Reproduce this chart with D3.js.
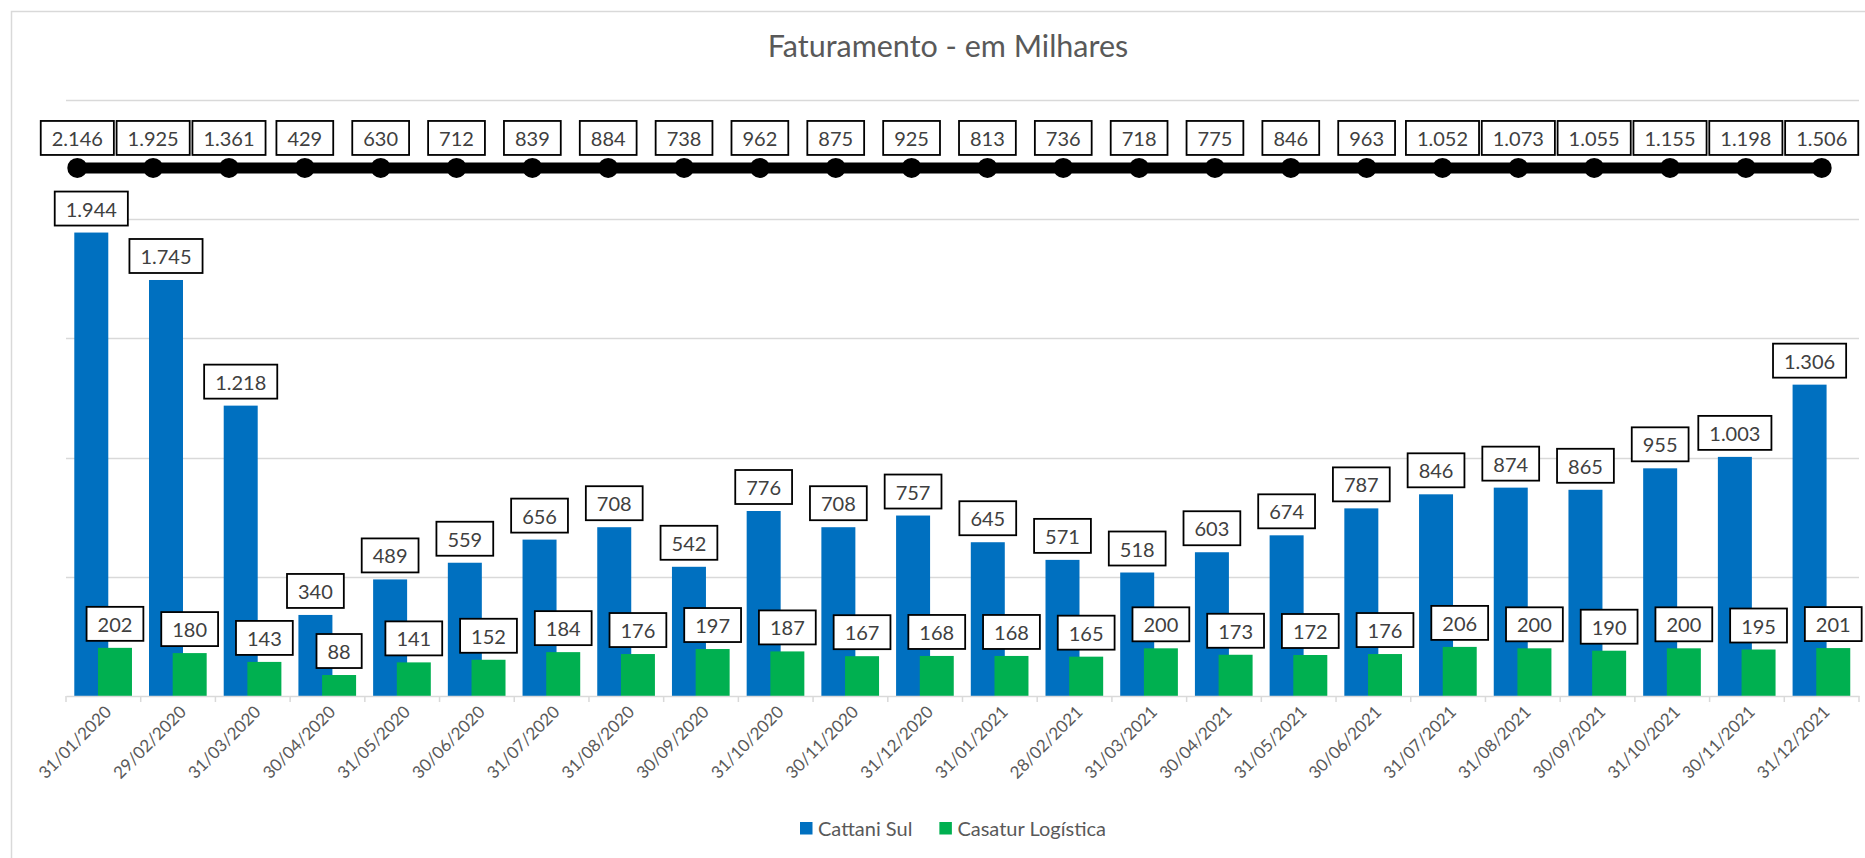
<!DOCTYPE html>
<html>
<head>
<meta charset="utf-8">
<script src="https://cdn.jsdelivr.net/npm/d3@7"></script>
<style>
  html, body { margin: 0; padding: 0; background: #fff; overflow: hidden; }
  text { font-family: Lato, "Open Sans", sans-serif; }
</style>
</head>
<body>
<svg id="chart"></svg>
<script>
const width = 1865;
const height = 858;
const margin = { top: 100, right: 6, bottom: 162, left: 66 };

const dates = ["31/01/2020", "29/02/2020", "31/03/2020", "30/04/2020", "31/05/2020", "30/06/2020",
    "31/07/2020", "31/08/2020", "30/09/2020", "31/10/2020", "30/11/2020", "31/12/2020",
    "31/01/2021", "28/02/2021", "31/03/2021", "30/04/2021", "31/05/2021", "30/06/2021",
    "31/07/2021", "31/08/2021", "30/09/2021", "31/10/2021", "30/11/2021", "31/12/2021"];
const cattani = [1944, 1745, 1218, 340, 489, 559, 656, 708, 542, 776, 708, 757,
    645, 571, 518, 603, 674, 787, 846, 874, 865, 955, 1003, 1306];
const casatur = [202, 180, 143, 88, 141, 152, 184, 176, 197, 187, 167, 168,
    168, 165, 200, 173, 172, 176, 206, 200, 190, 200, 195, 201];
const totals = [2146, 1925, 1361, 429, 630, 712, 839, 884, 738, 962, 875, 925,
    813, 736, 718, 775, 846, 963, 1052, 1073, 1055, 1155, 1198, 1506];
// the total line is drawn flat at this level, labels show the totals
const totalLevel = 2215;
const yTicks = [0, 500, 1000, 1500, 2000, 2500];
const seriesNames = ["Cattani Sul", "Casatur Logística"];
const colors = ["#0070C0", "#00B050"];

const fmt = d3.formatLocale({ decimal: ",", thousands: ".", grouping: [3], currency: ["R$", ""] }).format(",d");

const svg = d3.select("#chart")
    .attr("width", width)
    .attr("height", height);

// chart border
svg.append("rect")
    .attr("x", 11.5).attr("y", 11.5)
    .attr("width", 1900).attr("height", 900)
    .attr("fill", "#fff")
    .attr("stroke", "#d9d9d9")
    .attr("stroke-width", 1.5);

const xScale = d3.scaleBand()
    .domain(dates)
    .range([margin.left, width - margin.right])
    .padding(0);

const xLine = d3.scalePoint()
    .domain(dates)
    .range([77.3, 1821.7]);

const yScale = d3.scaleLinear()
    .domain([0, 2500])
    .range([height - margin.bottom, margin.top]);

const bw = xScale.bandwidth();

// gridlines
svg.append("g")
    .selectAll("line")
    .data(yTicks.slice(1))
    .enter()
    .append("line")
    .attr("x1", margin.left)
    .attr("x2", width - margin.right)
    .attr("y1", d => Math.round(yScale(d)) + 0.5)
    .attr("y2", d => Math.round(yScale(d)) + 0.5)
    .attr("stroke", "#d9d9d9")
    .attr("stroke-width", 1.5);

// bars
const barW = bw * 0.455;
const offsets = [bw * 0.111, bw * 0.428];
[cattani, casatur].forEach((series, si) => {
    svg.append("g")
        .selectAll("rect")
        .data(series)
        .enter()
        .append("rect")
        .attr("x", (d, i) => xScale(dates[i]) + offsets[si])
        .attr("y", d => yScale(d))
        .attr("width", barW)
        .attr("height", d => yScale(0) - yScale(d))
        .attr("fill", colors[si]);
});

// x axis
const xAxis = d3.axisBottom(xScale).tickSize(0).tickFormat("");
const xg = svg.append("g")
    .attr("transform", `translate(0, ${yScale(0)})`)
    .call(xAxis);
xg.select(".domain").attr("stroke", "#d9d9d9").attr("stroke-width", 1.5);
xg.selectAll(".tick").remove();

svg.append("g")
    .selectAll("line")
    .data(dates.concat(["end"]))
    .enter()
    .append("line")
    .attr("x1", (d, i) => margin.left + i * bw)
    .attr("x2", (d, i) => margin.left + i * bw)
    .attr("y1", yScale(0))
    .attr("y2", yScale(0) + 6)
    .attr("stroke", "#d9d9d9")
    .attr("stroke-width", 1.5);

svg.append("g")
    .selectAll("text")
    .data(dates)
    .enter()
    .append("text")
    .attr("transform", d => `translate(${xScale(d) + bw / 2 + 6}, ${yScale(0) + 14}) rotate(-45)`)
    .attr("text-anchor", "end")
    .attr("dominant-baseline", "middle")
    .attr("font-size", 17)
    .attr("fill", "#595959")
    .text(d => d);

// label helper: boxed text centred at (cx, cy)
function boxedLabel(g, cx, cy, txt) {
    const t = g.append("text")
        .attr("x", cx)
        .attr("y", cy)
        .attr("text-anchor", "middle")
        .attr("dominant-baseline", "central")
        .attr("font-size", 20)
        .attr("fill", "#404040")
        .text(txt);
    const w = t.node().getComputedTextLength() + 22;
    g.insert("rect", "text")
        .attr("x", cx - w / 2)
        .attr("y", cy - 17)
        .attr("width", w)
        .attr("height", 34)
        .attr("fill", "#fff")
        .attr("stroke", "#000")
        .attr("stroke-width", 1.8);
}

// bar labels
[cattani, casatur].forEach((series, si) => {
    series.forEach((v, i) => {
        const g = svg.append("g");
        boxedLabel(g, xScale(dates[i]) + offsets[si] + barW / 2, yScale(v) - 24, fmt(v));
    });
});

// total line
const line = d3.line()
    .x((d, i) => xLine(dates[i]))
    .y(() => yScale(totalLevel));

svg.append("path")
    .datum(totals)
    .attr("d", line)
    .attr("fill", "none")
    .attr("stroke", "#000")
    .attr("stroke-width", 11);

svg.append("g")
    .selectAll("circle")
    .data(totals)
    .enter()
    .append("circle")
    .attr("cx", (d, i) => xLine(dates[i]))
    .attr("cy", yScale(totalLevel))
    .attr("r", 10)
    .attr("fill", "#000");

totals.forEach((v, i) => {
    const g = svg.append("g");
    boxedLabel(g, xLine(dates[i]), yScale(totalLevel) - 30, fmt(v));
});

// title
svg.append("text")
    .attr("x", 948)
    .attr("y", 57)
    .attr("text-anchor", "middle")
    .attr("font-size", 30.5)
    .attr("fill", "#595959")
    .text("Faturamento - em Milhares");

// legend
const legend = svg.append("g").attr("transform", "translate(800, 828)");
let lx = 0;
seriesNames.forEach((name, i) => {
    legend.append("rect")
        .attr("x", lx).attr("y", -6)
        .attr("width", 12.5).attr("height", 12.5)
        .attr("fill", colors[i]);
    const t = legend.append("text")
        .attr("x", lx + 18)
        .attr("y", 0)
        .attr("dominant-baseline", "central")
        .attr("font-size", 20)
        .attr("fill", "#595959")
        .text(name);
    lx += 18 + t.node().getComputedTextLength() + 27;
});
</script>
</body>
</html>
